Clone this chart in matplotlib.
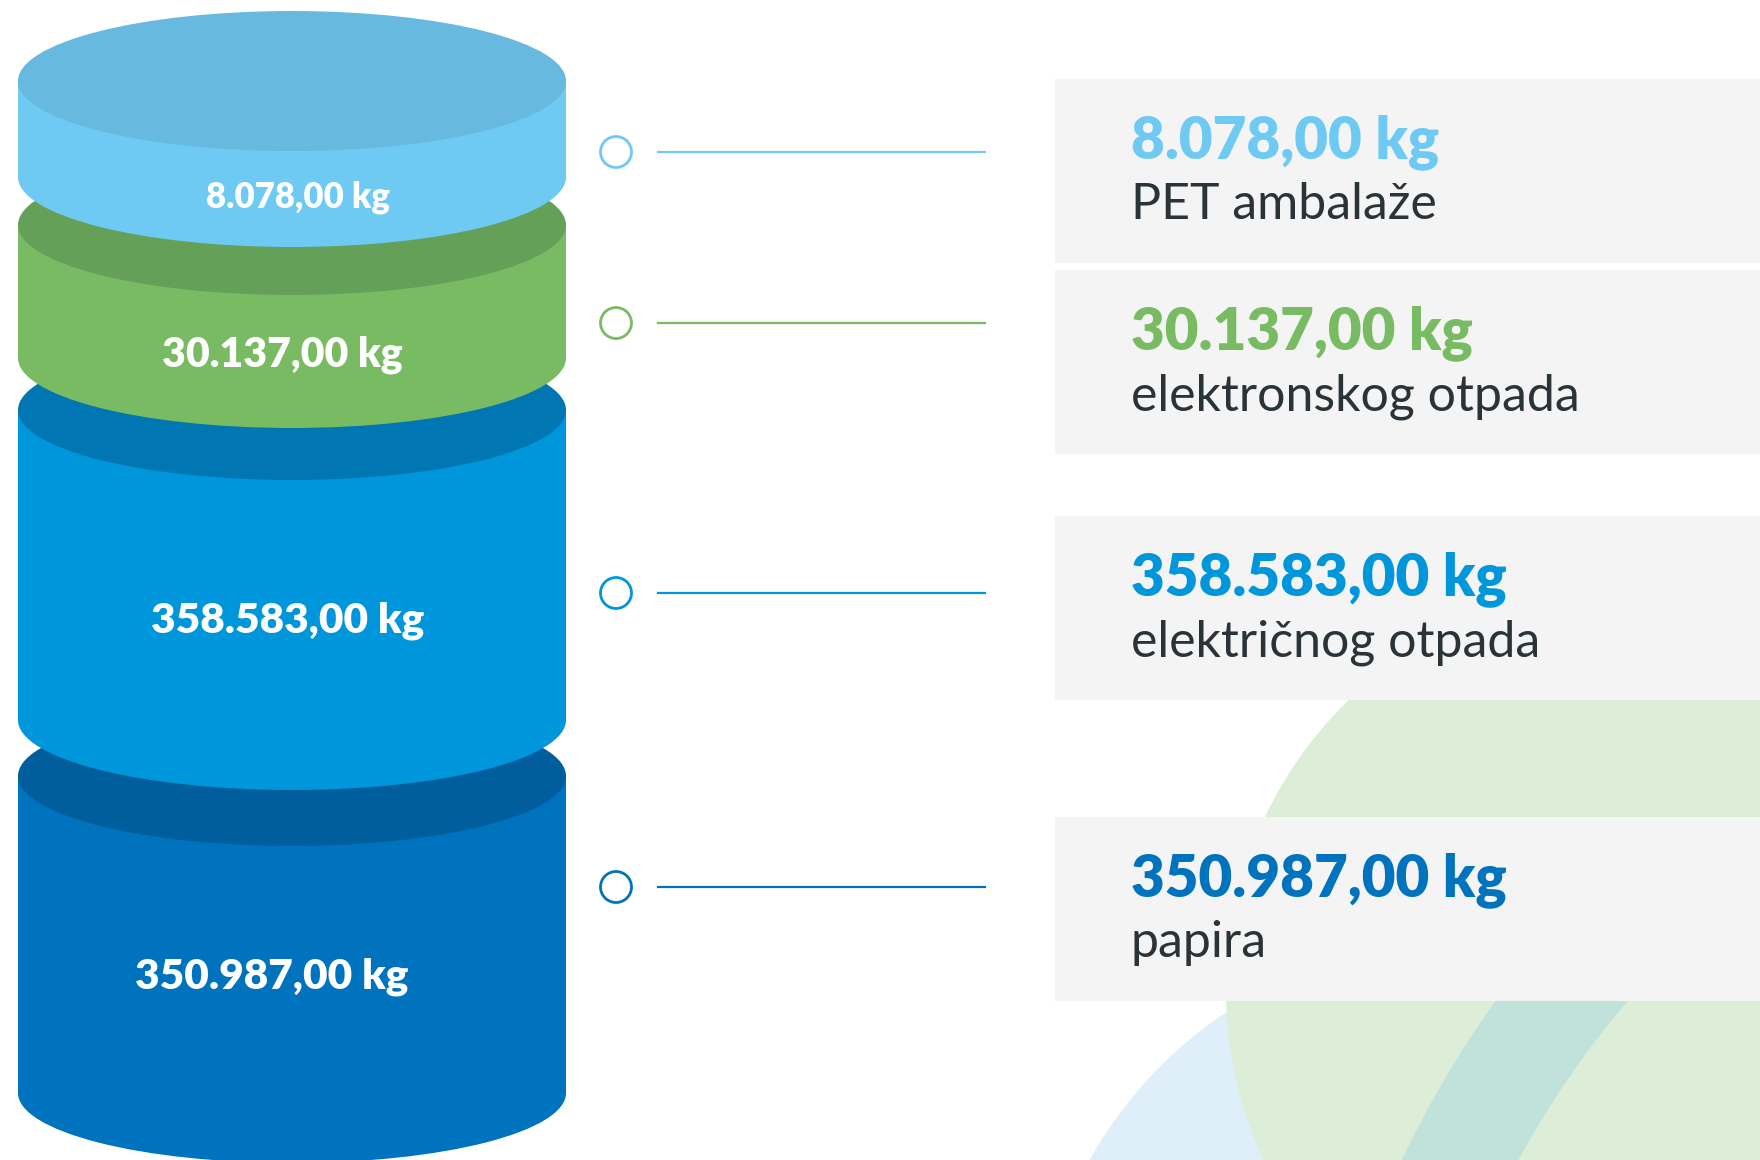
import matplotlib
matplotlib.use("Agg")
import matplotlib.pyplot as plt
from matplotlib.patches import Ellipse, Rectangle, Circle, Wedge

# data
categories = ["PET ambalaže", "elektronskog otpada", "električnog otpada", "papira"]
values = [8078.00, 30137.00, 358583.00, 350987.00]

# colours (side, top) per segment
side_colors = ["#6ecaf2", "#78bb63", "#0096db", "#0073bf"]
top_colors = ["#67b9e0", "#64a057", "#0077b3", "#005e9c"]
text_colors = ["#6ecaf2", "#78bb63", "#0096db", "#0073bf"]

# layout in pixels (image is 1760 x 1160, y downwards)
W, H = 1760, 1160
cyl_x0, cyl_x1 = 18, 566
seg_top = [81, 225, 410, 776]
seg_bottom = [177, 358, 720, 1093]
ell_b = 70
inner_label_x = [298, 282, 288, 272]
inner_label_y = [208, 366, 632, 989]
inner_label_size = [25, 29.5, 30.5, 30.5]
marker_y = [152, 323, 593, 887]
box_top = [79, 270, 516, 817]
box_h = 184


def fmt(v):
    s = f"{v:,.2f}"
    return s.replace(",", "X").replace(".", ",").replace("X", ".") + " kg"


plt.rcParams['font.family'] = ['Lato', 'DejaVu Sans']

fig = plt.figure(figsize=(W / 100, H / 100), dpi=100)
ax = fig.add_axes([0, 0, 1, 1])
ax.set_xlim(0, W)
ax.set_ylim(H, 0)
ax.axis("off")

# background circles (bottom right)
ax.add_patch(Circle((1467, 1372), 433, color="#dfeff9", lw=0, zorder=0))
ax.add_patch(Circle((1630, 990), 404, color="#dcedd8", lw=0, zorder=1))
# teal ring, its upper end stays hidden under the last box
ax.add_patch(Wedge((2335, 1603), 1033, 200, 226, width=104, color="#c1e2da", lw=0, zorder=2))

# boxes
for i in range(4):
    ax.add_patch(Rectangle((1055, box_top[i]), W - 1055, box_h, color="#f4f4f4", lw=0, zorder=3))
    ax.text(1131, box_top[i] + 79, fmt(values[i]), color=text_colors[i], fontsize=42,
            fontweight="heavy", va="baseline", ha="left", zorder=4)
    ax.text(1131, box_top[i] + 140, categories[i], color="#2a3337", fontsize=36,
            fontweight="normal", va="baseline", ha="left", zorder=4)

# connectors
for i in range(4):
    ax.add_patch(Circle((616, marker_y[i]), 15.5, fill=False, ec=side_colors[i], lw=2.0, zorder=4))
    ax.plot([658, 985], [marker_y[i], marker_y[i]], color=side_colors[i], lw=1.6, zorder=4)

# cylinder, drawn bottom segment first
cx = (cyl_x0 + cyl_x1) / 2
cw = cyl_x1 - cyl_x0
for i in [3, 2, 1, 0]:
    z = 10 + (3 - i) * 3
    ax.add_patch(Ellipse((cx, seg_bottom[i]), cw, 2 * ell_b, color=side_colors[i], lw=0, zorder=z))
    ax.add_patch(Rectangle((cyl_x0, seg_top[i]), cw, seg_bottom[i] - seg_top[i],
                           color=side_colors[i], lw=0, zorder=z))
    ax.add_patch(Ellipse((cx, seg_top[i]), cw, 2 * ell_b, color=top_colors[i], lw=0, zorder=z + 1))
    ax.text(inner_label_x[i], inner_label_y[i], fmt(values[i]), color="white",
            fontsize=inner_label_size[i], fontweight="heavy", ha="center", va="baseline", zorder=z + 2)

fig.savefig("out.png", dpi=100)
